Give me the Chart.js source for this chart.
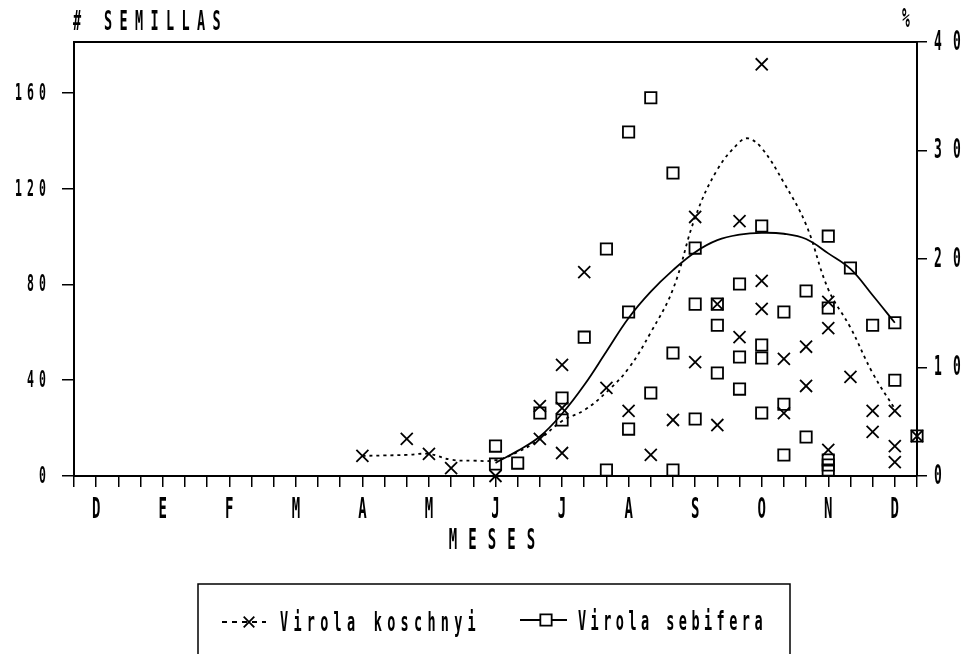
<!DOCTYPE html>
<html>
<head>
<meta charset="utf-8">
<script src="https://cdn.jsdelivr.net/npm/chart.js@4.4.1/dist/chart.umd.min.js"></script>
<style>
  html, body { margin: 0; padding: 0; background: #fff; }
  canvas { display: block; }
</style>
</head>
<body>
<canvas id="chart" width="966" height="654"></canvas>
<script>
// ── Data ──────────────────────────────────────────────────────────────────────
// x runs in ten-day periods: 3 per month, month letter sits on the middle one
const MONTHS = ['D', 'E', 'F', 'M', 'A', 'M', 'J', 'J', 'A', 'S', 'O', 'N', 'D'];
const PERIODS = 38;

// Virola koschnyi — seed counts per collection
const koschDecade = [13, 15, 16, 17, 19, 21, 21, 22, 22, 22, 23, 24, 25, 26, 27, 28, 28, 29, 29,
                     30, 30, 31, 31, 31, 32, 32, 33, 33, 34, 34, 34, 35, 36, 36, 37, 37, 37, 38];
const koschSeeds  = [8.4, 15.5, 9.2, 3.3, 0, 29.2, 15.5, 46.4, 28.4, 9.6, 85.2, 36.8, 27.2, 8.8, 23.4, 108.2, 47.6, 71.8, 21.3,
                     106.5, 58, 172, 81.5, 69.8, 48.9, 26.3, 54, 37.6, 72.7, 61.8, 10.9, 41.4, 27.2, 18.4, 27.2, 12.5, 5.8, 16.7];

// Virola sebifera — seed counts per collection
const sebDecade = [19, 19, 20, 21, 22, 22, 23, 24, 24, 25, 25, 25, 26, 26, 27, 27, 27, 28, 28, 28, 29, 29, 29,
                   30, 30, 30, 31, 31, 31, 31, 32, 32, 32, 33, 33, 34, 34, 34, 34, 34, 35, 36, 37, 37, 38];
const sebSeeds  = [12.5, 5, 5.4, 26.3, 32.6, 23.4, 58, 94.8, 2.5, 143.7, 68.5, 19.6, 158, 34.7, 126.6, 51.4, 2.5, 95.2, 71.8, 23.8, 71.8, 63, 43,
                   80.2, 49.7, 36.3, 104.4, 54.7, 49.3, 26.3, 68.5, 30, 8.8, 77.3, 16.3, 100.2, 70.2, 6.7, 4.6, 2.5, 86.9, 63, 64, 40, 16.7];

// Smoothed trends, read at each period
const koschTrendX = [13, 14, 15, 16, 17, 18, 19, 20, 21, 22, 23, 24, 25, 26, 27, 28, 29, 30, 30.4, 31, 32, 33, 34, 35, 36, 37];
const koschTrendY = [8.4, 8.6, 8.8, 9.2, 6.8, 6.4, 6.6, 10, 15.5, 23, 27.5, 35, 45, 60, 78, 108, 128, 139.5, 141, 137, 122.5, 105, 78, 62, 43, 28];
const sebTrendX = [19, 20, 21, 22, 23, 24, 25, 26, 27, 28, 29, 30, 31, 32, 33, 34, 35, 36, 37];
const sebTrendY = [5.5, 10.5, 16.5, 26, 38, 52, 66, 77, 86, 93.5, 98.5, 100.8, 101.6, 101.2, 99, 93, 86.5, 75.5, 64];

// Axis ticks
const SEED_TICKS = [0, 40, 80, 120, 160];
const PCT_TICKS = [0, 10, 20, 30, 40];
const SEED_MAX = 181.3;   // lines up with 40 % on the right axis
const PCT_MAX = 40;

// ── Style ─────────────────────────────────────────────────────────────────────
const INK = '#000';
const FONT = '"DejaVu Sans Mono", "Liberation Mono", monospace';
const SX = 0.5;   // horizontal squeeze for the tall plotter lettering

const pts = (xs, ys) => xs.map((x, i) => ({ x, y: ys[i] }));

// Tall narrow letters at a fixed pitch
function plotterText(ctx, text, x, y, { size = 26, pitch = 15, align = 'left' } = {}) {
  ctx.save();
  ctx.font = `bold ${size}px ${FONT}`;
  ctx.letterSpacing = '0px';
  const adv = ctx.measureText('0').width;
  const n = [...text].length;
  const gap = pitch / SX - adv;
  const w = (n * adv + (n - 1) * gap) * SX;
  const x0 = align === 'right' ? x - w : align === 'center' ? x - w / 2 : x;
  ctx.translate(x0, y);
  ctx.scale(SX, 1);
  ctx.letterSpacing = gap + 'px';
  ctx.textAlign = 'left';
  ctx.textBaseline = 'middle';
  ctx.fillStyle = INK;
  ctx.fillText(text, 0, 1);
  ctx.restore();
}

function monthFor(v) {
  return (v - 1) % 3 === 0 ? MONTHS[(v - 1) / 3] : '';
}

// ── Labels, frame and legend ──────────────────────────────────────────────────
const plotterLabels = {
  id: 'plotterLabels',
  afterDraw(chart) {
    const { ctx, chartArea: a, scales } = chart;

    // top edge of the frame
    ctx.save();
    ctx.strokeStyle = INK;
    ctx.lineWidth = 2;
    ctx.beginPath();
    ctx.moveTo(a.left, a.top);
    ctx.lineTo(a.right, a.top);
    ctx.stroke();
    ctx.restore();

    scales.x.ticks.forEach(t => {
      const m = monthFor(t.value);
      if (m) plotterText(ctx, m, scales.x.getPixelForValue(t.value), 510, { size: 28, align: 'center' });
    });
    scales.y.ticks.forEach(t => {
      plotterText(ctx, String(t.value), 46, scales.y.getPixelForValue(t.value), { size: 23, pitch: 12, align: 'right' });
    });
    scales.y1.ticks.forEach(t => {
      plotterText(ctx, String(t.value), 934, scales.y1.getPixelForValue(t.value), { size: 26, pitch: 19, align: 'left' });
    });

    plotterText(ctx, '# SEMILLAS', 73, 22, { size: 27, pitch: 15.5 });
    plotterText(ctx, '%', 906, 19, { size: 26, align: 'center' });
    plotterText(ctx, 'MESES', 492, 541, { size: 28, pitch: 19.5, align: 'center' });

    // legend box
    ctx.save();
    ctx.strokeStyle = INK;
    ctx.lineWidth = 1.5;
    ctx.strokeRect(198, 584, 592, 120);

    const ly = 622;
    ctx.lineWidth = 1.8;
    ctx.setLineDash([5, 5]);
    ctx.beginPath();
    ctx.moveTo(222, ly);
    ctx.lineTo(266, ly);
    ctx.stroke();
    ctx.setLineDash([]);
    Chart.helpers.drawPoint(ctx, { pointStyle: 'crossRot', radius: 7.5, borderWidth: 1.8 }, 249, ly);

    ctx.beginPath();
    ctx.moveTo(520, ly - 2);
    ctx.lineTo(567, ly - 2);
    ctx.stroke();
    ctx.fillStyle = '#fff';
    Chart.helpers.drawPoint(ctx, { pointStyle: 'rect', radius: 8, borderWidth: 1.8 }, 546, ly - 2);
    ctx.restore();

    plotterText(ctx, 'Virola koschnyi', 280, 623, { size: 27, pitch: 13.4 });
    plotterText(ctx, 'Virola sebifera', 578, 622, { size: 27, pitch: 12.6 });
  },
};

// ── Chart ─────────────────────────────────────────────────────────────────────
function edgeAxis(extra) {
  return {
    grid: { drawOnChartArea: false, drawTicks: true, color: INK, lineWidth: 1.5 },
    border: { display: true, color: INK, width: 2 },
    ...extra,
  };
}

new Chart(document.getElementById('chart').getContext('2d'), {
  type: 'scatter',
  data: {
    datasets: [
      {
        label: 'Virola koschnyi',
        data: pts(koschDecade, koschSeeds),
        pointStyle: 'crossRot', pointRadius: 8.5, pointBorderWidth: 1.8,
        borderColor: INK, backgroundColor: 'transparent',
        showLine: false, clip: false,
      },
      {
        label: 'Virola sebifera',
        data: pts(sebDecade, sebSeeds),
        pointStyle: 'rect', pointRadius: 8, pointBorderWidth: 1.8,
        borderColor: INK, backgroundColor: 'transparent',
        showLine: false, clip: false,
      },
      {
        label: 'koschnyi trend',
        data: pts(koschTrendX, koschTrendY),
        showLine: true, pointRadius: 0,
        borderColor: INK, borderWidth: 1.8, borderDash: [3, 4],
        tension: 0.4,
      },
      {
        label: 'sebifera trend',
        data: pts(sebTrendX, sebTrendY),
        showLine: true, pointRadius: 0,
        borderColor: INK, borderWidth: 1.8,
        tension: 0.4,
      },
    ],
  },
  options: {
    responsive: false, animation: false, events: [],
    layout: { padding: { top: 42, left: 0, right: 0, bottom: 0 } },
    plugins: { legend: { display: false }, tooltip: { enabled: false } },
    scales: {
      x: edgeAxis({
        type: 'linear', position: 'bottom', min: 0, max: PERIODS,
        ticks: { stepSize: 1, display: false },
        grid: { drawOnChartArea: false, color: INK, lineWidth: 1.5, tickLength: 11 },
        afterFit: s => { s.height = 178; },
      }),
      y: edgeAxis({
        position: 'left', min: 0, max: SEED_MAX,
        afterBuildTicks: s => { s.ticks = SEED_TICKS.map(value => ({ value })); },
        ticks: { display: false },
        grid: { drawOnChartArea: false, color: INK, lineWidth: 1.5, tickLength: 12 },
        afterFit: s => { s.width = 74; },
      }),
      y1: edgeAxis({
        position: 'right', min: 0, max: PCT_MAX,
        afterBuildTicks: s => { s.ticks = PCT_TICKS.map(value => ({ value })); },
        ticks: { display: false },
        grid: { drawOnChartArea: false, color: INK, lineWidth: 1.5, tickLength: 10 },
        afterFit: s => { s.width = 49; },
      }),
    },
  },
  plugins: [plotterLabels],
});
</script>
</body>
</html>
